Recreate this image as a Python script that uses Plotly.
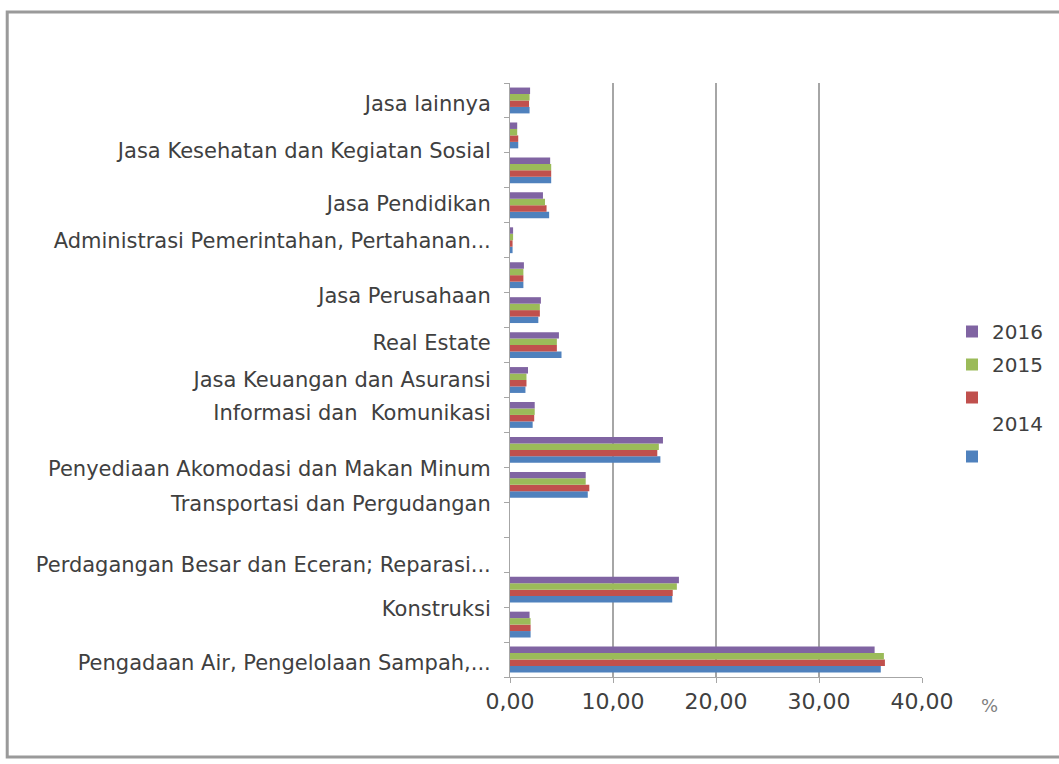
import plotly.graph_objects as go

# ---- data (bottom group first) ----
group_index = list(range(17))
v2016 = [35.4, 1.9, 16.4, 0.0, 0.0, 7.35, 14.85, 2.4, 1.75, 4.75, 3.0, 1.35, 0.3, 3.2, 3.9, 0.7, 1.95]
v2015 = [36.3, 2.0, 16.2, 0.0, 0.0, 7.35, 14.45, 2.4, 1.6, 4.55, 2.9, 1.3, 0.3, 3.4, 4.0, 0.7, 1.9]
v2014 = [36.4, 2.0, 15.8, 0.0, 0.0, 7.7, 14.3, 2.35, 1.6, 4.55, 2.9, 1.3, 0.25, 3.55, 4.0, 0.8, 1.85]
v_blue = [36.0, 2.0, 15.75, 0.0, 0.0, 7.55, 14.6, 2.2, 1.5, 5.0, 2.75, 1.3, 0.25, 3.8, 4.0, 0.8, 1.9]

tick_labels = [
    "Pengadaan Air, Pengelolaan Sampah,...",
    "Konstruksi",
    "Perdagangan Besar dan Eceran; Reparasi...",
    "Transportasi dan Pergudangan",
    "Penyediaan Akomodasi dan Makan Minum",
    "Informasi dan  Komunikasi",
    "Jasa Keuangan dan Asuransi",
    "Real Estate",
    "Jasa Perusahaan",
    "Administrasi Pemerintahan, Pertahanan...",
    "Jasa Pendidikan",
    "Jasa Kesehatan dan Kegiatan Sosial",
    "Jasa lainnya",
]
x_ticks = [0, 10, 20, 30, 40]

# label anchor positions (layout only)
label_pos = [-0.09, 1.45, 2.71, 4.45, 5.45, 7.07, 8.01, 9.07, 10.41, 11.98, 13.06, 14.57, 15.9]

W, H = 1059, 764
ML, MR, MT, MB = 510, 136, 83, 87
PW, PH = W - ML - MR, H - MT - MB

# drawn bottom-to-top inside each group; legend rank gives top-to-bottom legend order
series = [
    ("", v_blue, "#4F81BD", 4),
    ("<br>2014", v2014, "#C0504D", 3),
    ("2015", v2015, "#9BBB59", 2),
    ("2016", v2016, "#8064A2", 1),
]

fig = go.Figure()
for i, (name, vals, col, rank) in enumerate(series):
    fig.add_trace(go.Bar(
        y=group_index, x=vals, orientation="h", name=name,
        marker=dict(color=col, line=dict(width=0)),
        legendgroup=f"g{i}", legendrank=rank,
    ))

font_txt = "DejaVu Sans, Liberation Sans, sans-serif"

def px_to_paper_x(px):
    return (px - ML) / PW

def px_to_paper_y(py):
    return (H - MB - py) / PH

fig.update_layout(
    width=W, height=H,
    margin=dict(l=ML, r=MR, t=MT, b=MB, pad=0),
    barmode="group", bargap=0.26, bargroupgap=0.0,
    plot_bgcolor="white", paper_bgcolor="white",
    separators=",.",
    font=dict(family=font_txt, color="#404040"),
    legend=dict(
        x=px_to_paper_x(952), y=px_to_paper_y(312), xanchor="left", yanchor="top",
        traceorder="grouped", tracegroupgap=4, valign="top",
        font=dict(size=20, color="#404040", family=font_txt),
        bgcolor="rgba(0,0,0,0)",
    ),
    xaxis=dict(
        range=[0, 40], tickvals=x_ticks, tickformat=".2f",
        showgrid=True, gridcolor="#A6A6A6", gridwidth=2,
        showline=True, linecolor="#A6A6A6", linewidth=1,
        ticks="outside", ticklen=5, tickcolor="#A6A6A6",
        tickfont=dict(size=22, color="#404040", family=font_txt),
        zeroline=False,
    ),
    yaxis=dict(
        range=[-0.5, 16.5], tickvals=label_pos, ticktext=tick_labels,
        showgrid=False, zeroline=False,
        showline=True, linecolor="#A6A6A6", linewidth=1,
        ticks="", ticklabelstandoff=14,
        tickfont=dict(size=21, color="#404040", family=font_txt),
        minor=dict(tick0=-0.5, dtick=1, ticks="outside", ticklen=5, tickcolor="#A6A6A6", showgrid=False),
    ),
    annotations=[dict(
        text="%", xref="paper", yref="paper",
        x=px_to_paper_x(991), y=px_to_paper_y(705), yanchor="middle", xanchor="center",
        showarrow=False, font=dict(size=18, color="#7F7F7F", family=font_txt),
    )],
    shapes=[dict(
        type="rect", xref="paper", yref="paper", layer="below",
        x0=px_to_paper_x(6), x1=px_to_paper_x(1075),
        y0=px_to_paper_y(757), y1=px_to_paper_y(12),
        line=dict(color="#9A9A9A", width=3), fillcolor="rgba(0,0,0,0)",
    )],
)

fig.write_html("out.html")
